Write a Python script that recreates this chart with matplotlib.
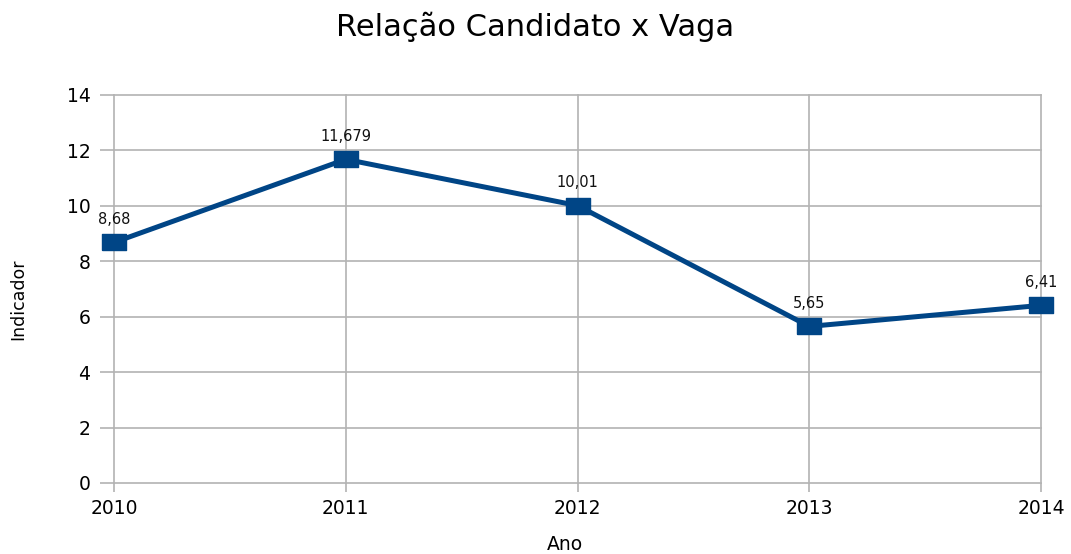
import matplotlib.pyplot as plt

anos = ['2010', '2011', '2012', '2013', '2014']
indicador = [8.68, 11.679, 10.01, 5.65, 6.41]
rotulos = ['8,68', '11,679', '10,01', '5,65', '6,41']

plt.rcParams['font.family'] = ['DejaVu Sans']

cor = '#004586'
cinza = '#b3b3b3'

fig = plt.figure(figsize=(10.71, 5.54), dpi=100)
ax = fig.add_axes([114 / 1071, 1 - 483 / 554, (1041 - 114) / 1071, (483 - 95) / 554])

x = list(range(len(anos)))
# marcador retangular, mais largo que alto
retangulo = [(-1.5, -1), (1.5, -1), (1.5, 1), (-1.5, 1), (-1.5, -1)]
ax.plot(x, indicador, color=cor, linewidth=3.6, marker=retangulo,
        markersize=17, markerfacecolor=cor, markeredgecolor=cor,
        zorder=3, clip_on=False)

for xi, yi, r in zip(x, indicador, rotulos):
    ax.annotate(r, (xi, yi), xytext=(0, 11), textcoords='offset points',
                ha='center', va='bottom', fontsize=10.5, color='#111111')

ax.set_xlim(0, len(anos) - 1)
ax.set_ylim(0, 14)
ax.set_xticks(x)
ax.set_xticklabels(anos)
ax.set_yticks(range(0, 15, 2))
ax.grid(True, color=cinza, linewidth=1.2)
for g in ax.get_xgridlines() + ax.get_ygridlines():
    g.set_clip_on(False)
ax.set_axisbelow(True)
for s in ['top', 'right', 'bottom', 'left']:
    ax.spines[s].set_visible(False)
ax.tick_params(axis='both', colors=cinza, labelcolor='black', labelsize=13.5, width=1.2)
ax.tick_params(axis='x', length=6.5, pad=5)
ax.tick_params(axis='y', length=10, pad=7)

ax.set_xlabel('Ano', fontsize=13.5)
ax.xaxis.set_label_coords((565 - 114) / 927, (483 - 545) / 388)
ax.xaxis.label.set_va('center')
ax.set_ylabel('Indicador', fontsize=12.5)
ax.yaxis.set_label_coords((18 - 114) / 927, (483 - 299) / 388)
ax.yaxis.label.set_va('center')

fig.text(535 / 1071, 1 - 27 / 554, 'Relação Candidato x Vaga', fontsize=22,
         ha='center', va='center')

fig.savefig('out.png', dpi=100)
